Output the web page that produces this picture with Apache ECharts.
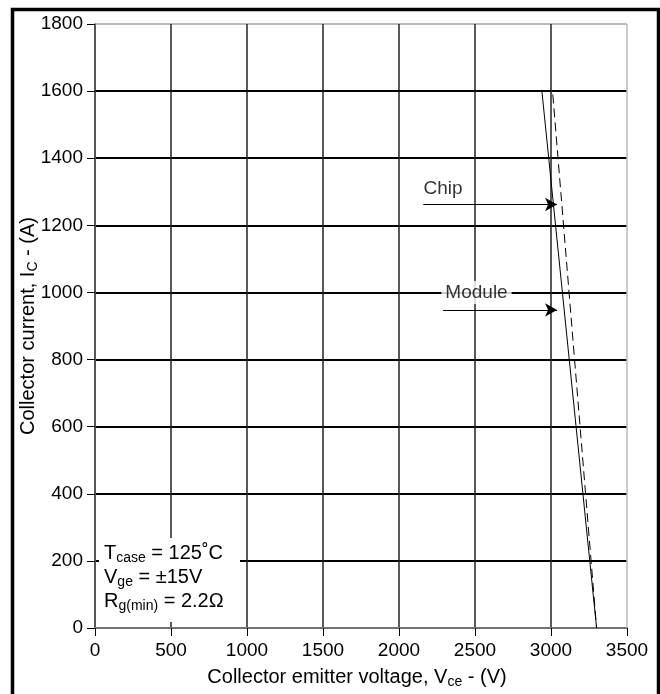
<!DOCTYPE html>
<html><head><meta charset="utf-8">
<script src="https://cdn.jsdelivr.net/npm/echarts@6/dist/echarts.min.js"></script>
<style>html,body{margin:0;padding:0;background:#fff}#c{width:660px;height:694px}</style>
</head><body><div id="c"></div>
<script>
const xTicks = [0, 500, 1000, 1500, 2000, 2500, 3000, 3500];
const yTicks = [0, 200, 400, 600, 800, 1000, 1200, 1400, 1600, 1800];
const moduleV = [0, 2940, 3300];
const moduleI = [1600, 1600, 0];
const chipV = [2940, 3010, 3300];
const chipI = [1600, 1600, 0];
const chipArrow = [[2160, 1262], [3040, 1262]];
const moduleArrow = [[2290, 948], [3040, 948]];
const labels = [{name: 'Chip', x: 2290, y: 1310}, {name: 'Module', x: 2510, y: 1000}];

const font = 'Liberation Sans, Arial, sans-serif';
const chart = echarts.init(document.getElementById('c'), null, {renderer: 'canvas'});
const hColors = yTicks.map((v, i) => (i === yTicks.length - 1 ? '#bbbbbb' : '#000'));
const vColors = xTicks.map((v, i) => (i === xTicks.length - 1 ? '#bbbbbb' : '#222'));

chart.setOption({
  animation: false,
  grid: {left: 95, right: 33, top: 24, bottom: 66, containLabel: false},
  xAxis: {
    type: 'value', min: 0, max: 3500, interval: 500,
    axisLine: {lineStyle: {color: '#999', width: 1.5}},
    axisTick: {show: true, length: 8, lineStyle: {color: '#000'}},
    axisLabel: {color: '#000', fontSize: 19, fontFamily: font, margin: 13, formatter: v => String(v)},
    splitLine: {show: true, lineStyle: {color: vColors, width: 1.5}},
    name: 'Collector emitter voltage, V{sub|ce} - (V)',
    nameLocation: 'middle', nameGap: 38, nameMoveOverlap: false,
    nameTextStyle: {color: '#000', fontSize: 20, fontFamily: font, padding: [0, 8, 0, 0],
      rich: {sub: {fontSize: 14, fontFamily: font, color: '#000', padding: [9, 0, 0, 0]}}}
  },
  yAxis: {
    type: 'value', min: 0, max: 1800, interval: 200,
    axisLine: {show: true, lineStyle: {color: '#555', width: 1.5}},
    axisTick: {show: true, length: 8, lineStyle: {color: '#000'}},
    axisLabel: {color: '#000', fontSize: 19, fontFamily: font, margin: 12, formatter: v => String(v)},
    splitLine: {show: true, lineStyle: {color: hColors, width: 2}},
    name: 'Collector current, I{sub|C} - (A)',
    nameLocation: 'middle', nameGap: 55, nameMoveOverlap: false,
    nameTextStyle: {color: '#000', fontSize: 20, fontFamily: font,
      rich: {sub: {fontSize: 14, fontFamily: font, color: '#000', padding: [9, 0, 0, 0]}}}
  },
  series: [
    {
      name: 'Module', type: 'line', symbol: 'none', silent: true,
      data: moduleV.map((v, i) => [v, moduleI[i]]),
      lineStyle: {color: '#000', width: 1},
      markLine: {
        symbol: ['none', 'arrow'], symbolSize: [10, 12], silent: true,
        label: {show: false},
        lineStyle: {color: '#000', width: 1, type: 'solid'},
        data: [
          [{coord: chipArrow[0]}, {coord: chipArrow[1]}],
          [{coord: moduleArrow[0]}, {coord: moduleArrow[1]}]
        ]
      }
    },
    {
      name: 'Chip', type: 'line', symbol: 'none', silent: true,
      data: chipV.map((v, i) => [v, chipI[i]]),
      lineStyle: {color: '#000', width: 1, type: [9, 5]}
    },
    {
      name: 'labels', type: 'scatter', symbolSize: 0, silent: true,
      data: labels.map(l => ({value: [l.x, l.y], name: l.name})),
      label: {show: true, position: 'inside', formatter: '{b}', color: '#000',
        fontSize: 19, fontFamily: font, backgroundColor: '#fff', padding: [2, 4]}
    }
  ],
  graphic: [
    {type: 'rect', left: 10, top: 7, shape: {width: 646, height: 700},
      style: {fill: 'none', stroke: '#000', lineWidth: 3.5}, silent: true},
    {type: 'rect', left: 99, top: 538, shape: {width: 141, height: 84},
      style: {fill: '#fff'}, silent: true, z: 50},
    {type: 'text', left: 104, top: 541, z: 51, silent: true,
      style: {
        text: 'T{sub|case} = 125˚C\nV{sub|ge} = ±15V\nR{sub|g(min)} = 2.2Ω',
        fill: '#000', font: '20px ' + font, lineHeight: 24,
        rich: {sub: {fontSize: 14, fontFamily: font, fill: '#000', padding: [10, 0, 0, 0]}}
      }}
  ]
});
</script></body></html>
